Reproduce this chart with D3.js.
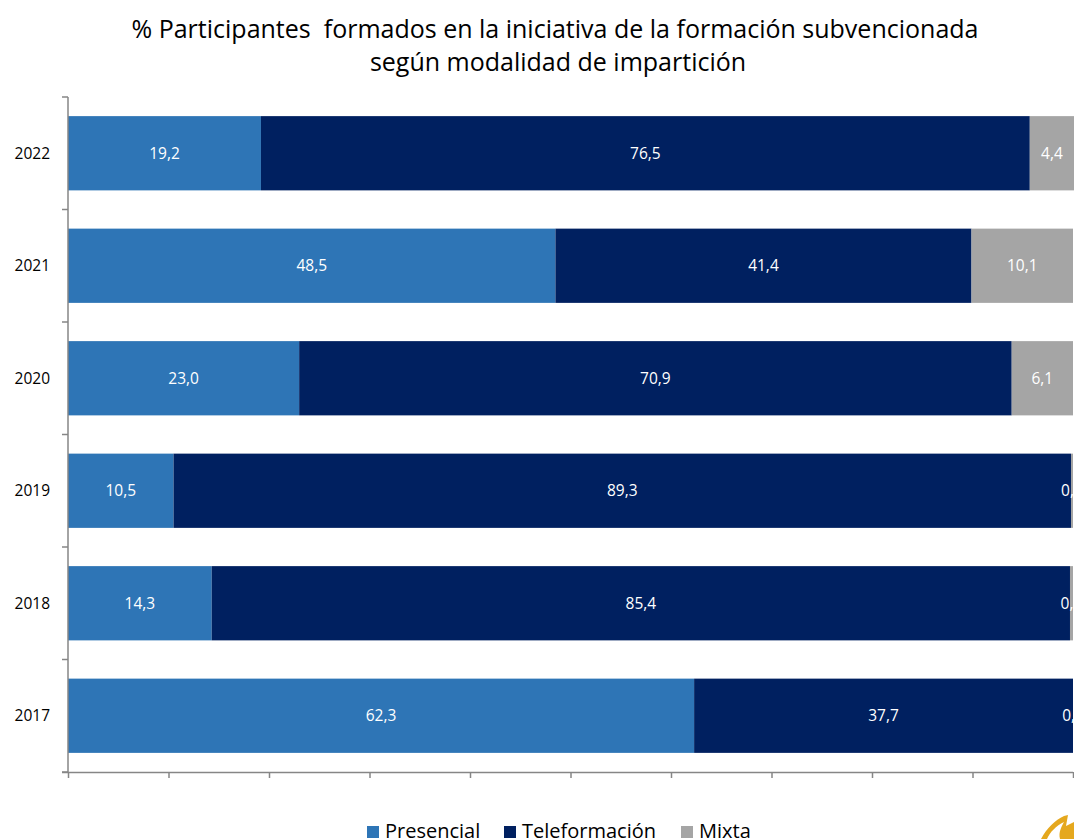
<!DOCTYPE html>
<html>
<head>
<meta charset="utf-8">
<script src="https://cdn.jsdelivr.net/npm/d3@7/dist/d3.min.js"></script>
<style>
html,body{margin:0;padding:0;background:#fff;overflow:hidden;}
svg{display:block;font-family:"Open Sans",Carlito,sans-serif;}
</style>
</head>
<body>
<svg id="chart" width="1074" height="839"></svg>
<script>
const years = ["2022","2021","2020","2019","2018","2017"];
const seriesNames = ["Presencial","Teleformación","Mixta"];
const presencial = [19.2, 48.5, 23.0, 10.5, 14.3, 62.3];
const teleformacion = [76.5, 41.4, 70.9, 89.3, 85.4, 37.7];
const mixta = [4.4, 10.1, 6.1, 0.2, 0.3, 0.0];
const colors = ["#2E75B6", "#002060", "#A5A5A5"];
const xTicks = [0,10,20,30,40,50,60,70,80,90,100];

const rows = years.map((y,i)=>({year:y, Presencial:presencial[i], "Teleformación":teleformacion[i], Mixta:mixta[i]}));
const stack = d3.stack().keys(seriesNames)(rows);

const svg = d3.select("#chart");
const m = {left:68, right:1073, top:97, bottom:772};
const x = d3.scaleLinear().domain([0,100]).range([m.left, m.right]);
const y = d3.scaleBand().domain(years).range([m.top, m.bottom]).paddingInner(0.34).paddingOuter(0.17);

// title
const title = svg.append("text").attr("text-anchor","middle")
  .attr("font-size",25).attr("fill","#000").style("white-space","pre");
title.append("tspan").attr("x",555).attr("y",38).text("% Participantes  formados en la iniciativa de la formación subvencionada");
title.append("tspan").attr("x",558).attr("y",71).text("según modalidad de impartición");

// bars
const g = svg.append("g");
stack.forEach((s,si)=>{
  g.selectAll(null).data(s).enter().append("rect")
    .attr("x", d=>x(d[0]))
    .attr("width", d=>Math.max(0, x(d[1])-x(d[0])))
    .attr("y", d=>y(d.data.year))
    .attr("height", y.bandwidth())
    .attr("fill", colors[si]);
});
// labels
stack.forEach((s,si)=>{
  g.selectAll(null).data(s).enter().append("text")
    .attr("x", d=>(x(d[0])+x(d[1]))/2)
    .attr("y", d=>y(d.data.year)+y.bandwidth()/2)
    .attr("dy","0.36em")
    .attr("text-anchor","middle")
    .attr("font-size",15.5)
    .attr("fill","#fff")
    .text(d=>d3.format(".1f")(d[1]-d[0]).replace(".",","));
});

// axes
const axisColor = "#868686";
const xAxis = svg.append("g").attr("transform",`translate(0,${m.bottom})`)
  .call(d3.axisBottom(x).tickValues(xTicks).tickSize(6).tickFormat(""));
xAxis.select(".domain").attr("stroke",axisColor).attr("stroke-width",1.5).attr("d",`M${m.left-6},0.5H${m.right}`);
xAxis.selectAll(".tick line").attr("stroke",axisColor).attr("stroke-width",1.5);

const yAxis = svg.append("g").attr("transform",`translate(${m.left},0)`);
yAxis.append("line").attr("x1",0).attr("x2",0).attr("y1",m.top).attr("y2",m.bottom).attr("stroke",axisColor).attr("stroke-width",1.5);
const bounds = d3.range(years.length+1).map(i=>m.top + i*(m.bottom-m.top)/years.length);
yAxis.selectAll(null).data(bounds).enter().append("line")
  .attr("x1",-6).attr("x2",0).attr("y1",d=>d).attr("y2",d=>d)
  .attr("stroke",axisColor).attr("stroke-width",1.5);
svg.append("g").selectAll("text").data(years).enter().append("text")
  .attr("x",50).attr("y",d=>y(d)+y.bandwidth()/2).attr("dy","0.36em")
  .attr("text-anchor","end").attr("font-size",15.5).attr("fill","#000").text(d=>d);

// legend
const legendItems = [{n:"Presencial",x:367},{n:"Teleformación",x:504},{n:"Mixta",x:681}];
const lg = svg.append("g");
legendItems.forEach((it,i)=>{
  lg.append("rect").attr("x",it.x).attr("y",826).attr("width",12).attr("height",12).attr("fill",colors[i]);
  lg.append("text").attr("x",it.x+18).attr("y",838).attr("font-size",20).attr("fill","#000").text(it.n);
});

// partial logo
svg.append("path").attr("d","M1041,839 C1047,828 1055,820 1064,816 L1068,815 L1066,826 L1074,822 L1074,839 L1060,839 C1058,832 1062,826 1064,822 C1056,826 1050,832 1047,839 Z").attr("fill","#E5A81E");
</script>
</body>
</html>
